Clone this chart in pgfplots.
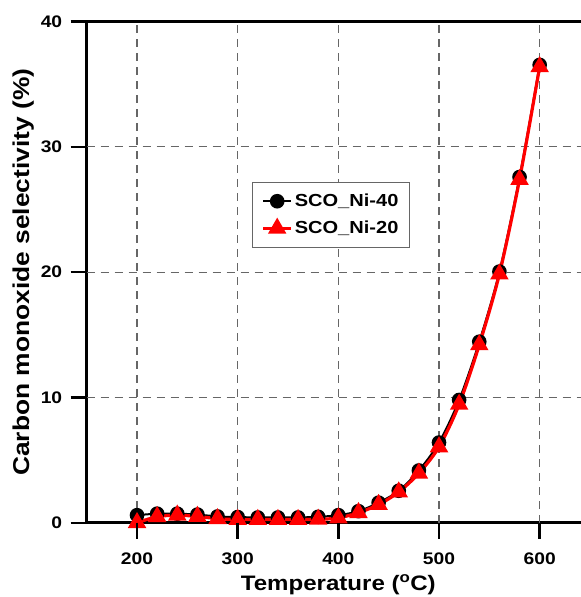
\documentclass[border=0pt]{standalone}
\usepackage{fontspec}
\setmainfont{Liberation Sans}[FakeStretch=1.15]
\usepackage{pgfplots}
\pgfplotsset{compat=1.18}
\begin{document}
\begin{tikzpicture}
\useasboundingbox (-86.7bp,-74.3bp) rectangle (494.3bp,522.7bp);
\begin{scope}[overlay]
\begin{axis}[
  at={(0,0)}, anchor=south west,
  scale only axis,
  width=503.3bp, height=501bp,
  xmin=150, xmax=650, ymin=0, ymax=40,
  axis line style={line width=2.6bp},
  xtick={200,300,400,500,600},
  ytick={0,10,20,30,40},
  xtick pos=left, ytick pos=left,
  tick align=outside,
  major tick length=16bp,
  every major tick/.append style={black, line width=2.4bp},
  /pgf/number format/assume math mode=true,
  tick label style={font=\fontsize{16.8}{18}\selectfont\bfseries},
  xticklabel style={yshift=-11bp},
  yticklabel style={xshift=-5bp},
  xlabel={Temperature (\textsuperscript{o}C)},
  ylabel={Carbon monoxide selectivity (\%)},
  xlabel style={font=\fontsize{21}{24}\selectfont\bfseries, yshift=-3bp},
  ylabel style={font=\fontsize{23}{26}\selectfont\bfseries, yshift=0bp},
  legend style={at={(0.4854,0.6146)}, anchor=center, draw=gray!80!black, line width=0.8bp,
    font=\fontsize{17.5}{20}\selectfont\bfseries, row sep=9bp, inner xsep=9bp, inner ysep=10bp},
  legend cell align=left,
  legend image code/.code={
    \draw[#1] (0bp,0bp) -- (28bp,0bp);
    \draw[#1, only marks] plot coordinates {(14bp,0bp)};
  },
  clip=false,
  after end axis/.code={
    \foreach \tk in {200,300,400,500,600}{
      \draw[black, line width=2.4bp] (axis cs:\tk,0) -- ++(0,-16bp);
    }
    \foreach \tk in {0,10,20,30,40}{
      \draw[black, line width=2.4bp] (axis cs:150,\tk) -- ++(-16bp,0);
    }
  },
]
\foreach \g in {200,300,400,500,600}{
  \edef\temp{\noexpand\draw[dash pattern=on 8bp off 6bp, line width=1.1bp, gray!80!black]
    (axis cs:\g,0) -- (axis cs:\g,40);}
  \temp
}
\foreach \g in {10,20,30}{
  \edef\temp{\noexpand\draw[dash pattern=on 8bp off 6bp, line width=1.1bp, gray!80!black]
    (axis cs:150,\g) -- (axis cs:650,\g);}
  \temp
}
\addplot[black, line width=2bp, smooth, mark=*, mark size=6.3bp, mark options={solid}]
coordinates {
(200,0.60) (220,0.72) (240,0.72) (260,0.65) (280,0.50) (300,0.45) (320,0.42)
(340,0.42) (360,0.42) (380,0.47) (400,0.60) (420,0.92) (440,1.60) (460,2.55)
(480,4.17) (500,6.40) (520,9.80) (540,14.45) (560,20.05) (580,27.60) (600,36.55)
};
\addlegendentry{SCO\_Ni-40}
\addplot[red, line width=3.2bp, smooth, mark=triangle*, mark size=7.5bp, mark options={solid}]
coordinates {
(200,0.0) (220,0.48) (240,0.60) (260,0.50) (280,0.32) (300,0.25) (320,0.25)
(340,0.25) (360,0.25) (380,0.27) (400,0.38) (420,0.80) (440,1.45) (460,2.45)
(480,3.95) (500,6.05) (520,9.45) (540,14.20) (560,19.85) (580,27.40) (600,36.40)
};
\addlegendentry{SCO\_Ni-20}
\end{axis}
\end{scope}
\end{tikzpicture}
\end{document}
